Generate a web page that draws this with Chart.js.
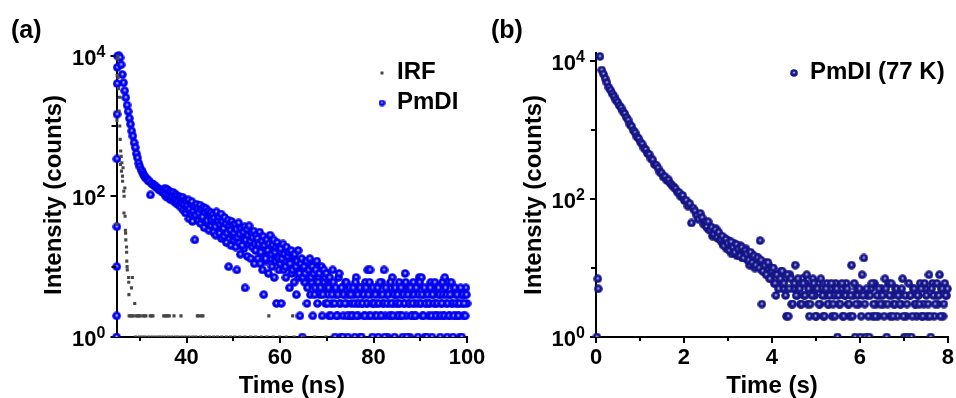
<!DOCTYPE html>
<html>
<head>
<meta charset="utf-8">
<script src="https://cdn.jsdelivr.net/npm/chart.js@4.4.1/dist/chart.umd.min.js"></script>
<style>
html,body{margin:0;padding:0;background:#fff;}
#wrap{position:relative;width:956px;height:398px;overflow:hidden;background:#fff;}
canvas{position:absolute;top:0;}
#chartA{left:0;}
#chartB{left:480px;}
</style>
</head>
<body>
<div id="wrap">
<canvas id="chartA" width="490" height="398"></canvas>
<canvas id="chartB" width="476" height="398"></canvas>
</div>
<script>
/* ---- data ---- */

// (a) room temperature decay, channels of 0.25 ns starting at 25.25 ns
const pmdiStart = 25.25;
const pmdiStep = 0.25;
const pmdiCounts = [
9850,10020,9380,7430,5390,4120,3170,2530,1980,1610,1290,1060,850,720,580,495,405,352,296,265,
240,222,205,193,184,176,170,163,105,152,148,145,139,136,131,127,124,119,121,113,
115,101,108,96,111,90,99,104,85,93,80,97,76,88,70,82,64,79,58,67,
66,48,71,55,44,60,24,52,63,45,57,41,54,47,36,58,43,50,33,45,
38,49,31,42,28,39,44,30,36,25,40,27,33,22,35,10,29,20,31,24,
27,19,9,28,22,15,26,30,18,5,23,14,21,25,13,19,22,11,17,24,
13,20,11,16,9,4,18,12,15,8,19,13,10,16,7,12,3,14,9,11,
3,18,9,12,7,14,10,5,11,8,13,6,9,4,11,7,2,10,1,8,
6,9,3,7,11,4,6,2,8,5,10,3,7,4,9,2,6,5,3,8,
4,2,6,3,9,5,1,4,2,7,3,1,5,2,4,6,3,1,2,5,
3,2,4,1,7,3,2,5,1,3,4,2,6,3,9,2,9,4,1,3,
2,5,3,1,4,2,6,3,9,2,4,1,3,5,2,7,3,1,4,2,
3,6,2,4,1,3,8,2,5,3,1,4,2,6,3,2,5,1,7,3,
7,2,4,1,3,5,2,3,6,1,4,2,3,5,2,4,1,3,6,2,
7,3,1,6,2,4,3,1,5,2,4,3,2,1,4,3,2,4,5,3
];
// in-between channels of the slow tail, from 35.125 ns
const pmdiMidStart = 35.125;
const pmdiMidCounts = [
121,130,112,125,104,118,110,99,114,95,107,101,88,100,93,82,97,78,89,85,
74,89,66,79,84,62,72,54,77,68,58,75,65,51,70,60,67,45,62,56,
59,46,55,49,37,60,45,51,40,56,44,35,50,41,30,46,38,33,44,39,
30,40,34,26,42,29,35,20,31,37,24,34,28,38,23,30,26,32,21,28,
25,21,31,16,23,27,20,13,24,17,21,28,15,20,24,16,19,22,13,19,
18,13,21,15,10,19,14,16,11,17,9,14,15,10,12,17,8,11,13,7,
10,8,12,5,9,13,7,10,8,4,9,12,6,8,5,10,4,9,7,8,
3,5,7,2,4,6,3,5,2,4,8,3,5,1,4,3,6,2,4,5,
4,2,5,3,6,2,4,3,5,1,3,4,2,5,3,4,6,2,3,5,
3,4,2,5,3,6,2,4,3,1,5,3,4,2,6,3,2,4,5,3,
4,2,3,5,2,4,3,6,1,4,3,5,2,3,4,2,5,3,4,6,
3,4,2,5,3,1,4,3,5,2,4,3,6,2,3,5,4,2,3,4,
2,5,4,3,2,4,6,3,2,5,3,4,2,3,5,1,4,3,2,4
];
// rising edge, all within the first channel
const riseTime = [25.02,25.04,25.06,25.08,25.1,25.12,25.14,25.17];
const riseCounts = [1,2,10,37,340,1470,4000,6800];

// instrument response
const irfTime = [
25.05,25.1,25.15,25.2,25.28,25.35,25.45,25.55,25.65,25.7,25.8,25.85,25.9,26.0,26.07,26.15,26.28,26.3,26.4,
26.56,26.6,26.63,26.78,26.84,26.9,26.95,27.0,27.14,27.17,27.2,27.27,27.3,27.6,27.62,27.66,28.2,28.4,28.9,
27.7,28.0,28.3,28.6,29.2,29.5,29.8,30.1,30.7,31.0,31.3,32.2,32.5,32.8,35.1,35.4,35.7,36.0,36.3,37.3,38.8,
42.3,42.6,43.2,43.5,57.6,62.7,
29.1,29.9,30.5,31.1,31.9,32.6,33.3,34.0,34.6,35.3,36.1,36.8,37.6,38.2,39.0,39.7,40.5,41.3,42.0,43.0,
44.1,44.9,45.8,46.6,47.5,48.5,49.4,50.3,51.4,52.5,53.7,54.8,56.0,57.2,58.5,59.9,61.3,63.0,65.0,67.4,69.8
];
const irfCounts = [
40,1200,5200,9000,9800,4900,3400,1630,2560,1000,645,283,440,370,228,300,194,164,255,
118,58,100,131,52,33,30,24,19,16,12,10,9,7,6,4,5,7,3,
2,2,2,2,2,2,2,2,2,2,2,2,2,2,2,2,2,2,2,2,2,
2,2,2,2,2,2,
1,1,1,1,1,1,1,1,1,1,1,1,1,1,1,1,1,1,1,1,
1,1,1,1,1,1,1,1,1,1,1,1,1,1,1,1,1,1,1,1,1
];

// (b) 77 K decay, channels of 0.04 s starting at 0.09 s
const lowStart = 0.09;
const lowStep = 0.04;
const lowCounts = [
11700,7420,6480,5590,4870,4150,3790,3360,3080,2730,
2540,2270,2110,1880,1740,1530,1400,1210,1130,985,
918,800,756,668,628,549,522,459,445,384,
371,318,310,281,246,239,209,211,186,190,
168,158,149,141,126,124,108,113,95,96,
79,86,45,74,67,58,51,62,54,43,
46,38,41,36,29,33,37,27,30,24,
22,27,19,25,21,16,23,20,15,18,
21,14,17,19,13,11,16,15,10,12,
14,25,3,9,12,8,11,7,10,6,
4,8,6,9,5,7,2,2,8,3,
5,11,4,6,3,7,4,6,3,2,
5,7,4,2,6,3,5,2,4,6,
3,5,2,4,6,1,3,5,2,4,
6,3,2,11,4,1,5,3,1,8,
14,1,4,1,5,2,6,3,2,4,
5,3,7,1,6,2,4,3,5,2,
4,3,7,1,2,1,4,1,5,3,
2,4,6,2,3,5,2,8,1,6,
2,4,3,8,5,2,6,4
];
// in-between channels of the tail, from 2.51 s
const lowMidStart = 2.51;
const lowMidCounts = [
40,47,35,39,31,36,28,33,26,29,
21,26,23,18,24,20,17,22,19,15,
20,14,18,16,13,17,12,15,11,14,
10,13,9,11,8,12,7,9,10,6,
8,5,7,9,6,4,8,5,7,3,
6,4,7,5,3,6,4,8,5,3,
4,6,2,5,3,7,4,2,5,3,
4,6,3,2,5,4,3,6,2,4,
5,3,4,2,6,3,4,5,2,4,
3,5,2,4,6,3,2,4,5,3,
4,2,5,3,4,6,2,3,5,4,
3,5,2,4,3,6,4,2,5,3,
4,3,5,2,6,4,3,2,5,4,
3,6,4,2,5,3,4,5
];
// counts before the excitation pulse
const preTime = [0.02,0.04,0.05];
const preCounts = [1,7,5];

// axes
const timeMajorA = [40,60,80,100];
const timeMinorA = [30,50,70,90];
const timeMajorB = [0,2,4,6,8];
const timeMinorB = [1,3,5,7];
const countMajor = [1,100,10000];
const countMinor = [10,1000];
const countExp = [0,2,4];

/* ---- styling ---- */
const FONT = '"Liberation Sans", Arial, Helvetica, sans-serif';

function makeBall(edge, rim, core, size){
  const c = document.createElement('canvas');
  c.width = size; c.height = size;
  const g = c.getContext('2d');
  const r = size/2;
  const grad = g.createRadialGradient(r, r-0.5, 0, r, r, r);
  grad.addColorStop(0, '#f2f2ff');
  grad.addColorStop(0.2, core);
  grad.addColorStop(0.45, rim);
  grad.addColorStop(0.85, rim);
  grad.addColorStop(1, edge);
  g.fillStyle = grad;
  g.beginPath(); g.arc(r, r, r-0.2, 0, Math.PI*2); g.fill();
  return c;
}
const blueBall = makeBall('#0000c8', '#0000f4', '#7474ff', 9);
const navyBall = makeBall('#0c0c6c', '#16168c', '#6c6cb2', 9);
const blueSmall = makeBall('#0000c8', '#0000f4', '#7474ff', 7);
const navySmall = makeBall('#0c0c6c', '#16168c', '#6c6cb2', 8);
const GREY = '#474747';

const pairs = (xs, ys) => xs.map((x,i)=>({x:x, y:ys[i]}));
const grid = (start, step, ys) => ys.map((y,i)=>({x:start+i*step, y:y}));
const CLIP = {left:10, right:10, top:10, bottom:0};

/* extra drawing: minor ticks, 10^n labels, panel letter, legend */
function decor(cfg){
  return {
    id: 'decor',
    afterDraw(chart){
      const ctx = chart.ctx;
      const xs = chart.scales.x, ys = chart.scales.y;
      const a = chart.chartArea;
      ctx.save();
      ctx.strokeStyle = '#000';
      ctx.lineWidth = 2;
      cfg.minorX.forEach(v=>{
        const px = Math.round(xs.getPixelForValue(v));
        ctx.beginPath(); ctx.moveTo(px, a.bottom); ctx.lineTo(px, a.bottom+4); ctx.stroke();
      });
      countMinor.forEach(v=>{
        const py = Math.round(ys.getPixelForValue(v));
        ctx.beginPath(); ctx.moveTo(a.left, py); ctx.lineTo(a.left-5, py); ctx.stroke();
      });

      ctx.fillStyle = '#000';
      ctx.textBaseline = 'alphabetic';
      countExp.forEach(n=>{
        const py = ys.getPixelForValue(Math.pow(10, n));
        ctx.font = 'bold 22px ' + FONT;
        ctx.textAlign = 'right';
        ctx.fillText('10', a.left-20, py+9);
        ctx.font = 'bold 16px ' + FONT;
        ctx.textAlign = 'left';
        ctx.fillText(String(n), a.left-20, py+1);
      });

      ctx.textAlign = 'left';
      ctx.font = 'bold 25px ' + FONT;
      ctx.fillText(cfg.letter, 11, 38);

      ctx.font = 'bold 24px ' + FONT;
      cfg.legend.forEach(item=>{
        const ds = chart.data.datasets[item.index];
        if(item.square){
          ctx.fillStyle = GREY;
          ctx.fillRect(item.mx-1.5, item.my-1.5, 3, 3);
        }else{
          const s = item.sprite;
          ctx.drawImage(s, item.mx-s.width/2, item.my-s.height/2);
        }
        ctx.fillStyle = '#000';
        ctx.fillText(ds.label, item.tx, item.ty);
      });
      ctx.restore();
    }
  };
}

function makeOptions(o){
  return {
    responsive: false,
    animation: false,
    devicePixelRatio: 1,
    layout: {padding: {left:0, top:53, right:o.padRight, bottom:0}},
    plugins: {legend: {display:false}, tooltip: {enabled:false}},
    scales: {
      x: {
        type: 'linear', min: o.xMin, max: o.xMax, z: 1,
        afterBuildTicks: s => { s.ticks = o.xMajor.map(v=>({value:v})); },
        afterFit: s => { s.height = 61; },
        ticks: {font:{family:FONT, size:22, weight:'bold'}, color:'#000', padding:2, autoSkip:false, maxRotation:0, callback: v => String(v)},
        grid: {display:true, drawOnChartArea:false, drawTicks:true, tickLength:6, tickWidth:2, tickColor:'#000', lineWidth:2, color:'#000'},
        border: {display:true, color:'#000', width:2},
        title: {display:true, text:o.xTitle, color:'#000', padding:0, font:{family:FONT, size:24, weight:'bold', lineHeight:1}}
      },
      y: {
        type: 'logarithmic', min: 1, max: o.yMax, z: 1,
        afterBuildTicks: s => { s.ticks = countMajor.map(v=>({value:v})); },
        afterFit: s => { s.width = o.yWidth; },
        ticks: {display:false, callback: () => ''},
        grid: {display:true, drawOnChartArea:false, drawTicks:true, tickLength:6, tickWidth:2, tickColor:'#000', lineWidth:2, color:'#000'},
        border: {display:true, color:'#000', width:2},
        title: {display:true, text:'Intensity (counts)', color:'#000', padding:{top:42, bottom:0}, font:{family:FONT, size:24, weight:'bold', lineHeight:1}}
      }
    }
  };
}

/* panel (a) */
new Chart(document.getElementById('chartA'), {
  type: 'scatter',
  data: {
    datasets: [
      {
        label: 'IRF',
        data: pairs(irfTime, irfCounts),
        pointStyle: 'rect', pointRadius: 2.2, pointBorderWidth: 0,
        pointBackgroundColor: GREY, clip: CLIP
      },
      {
        label: 'PmDI',
        data: pairs(riseTime, riseCounts)
          .concat(grid(pmdiStart, pmdiStep, pmdiCounts))
          .concat(grid(pmdiMidStart, pmdiStep, pmdiMidCounts)),
        pointStyle: blueBall, pointRadius: 4.5, pointBorderWidth: 0, clip: CLIP
      }
    ]
  },
  options: makeOptions({xMin:25, xMax:100, xMajor:timeMajorA, xTitle:'Time (ns)', yMax:1.09e4, yWidth:116.5, padRight:23}),
  plugins: [decor({
    letter: '(a)', minorX: timeMinorA,
    legend: [
      {index:0, square:true, mx:382, my:73, tx:397, ty:78.5},
      {index:1, sprite:blueSmall, mx:382, my:103, tx:397, ty:108.5}
    ]
  })]
});

/* panel (b) */
new Chart(document.getElementById('chartB'), {
  type: 'scatter',
  data: {
    datasets: [
      {
        label: 'PmDI (77 K)',
        data: pairs(preTime, preCounts)
          .concat(grid(lowStart, lowStep, lowCounts))
          .concat(grid(lowMidStart, lowStep, lowMidCounts)),
        pointStyle: navyBall, pointRadius: 4.5, pointBorderWidth: 0, clip: CLIP
      }
    ]
  },
  options: makeOptions({xMin:0, xMax:8, xMajor:timeMajorB, xTitle:'Time (s)', yMax:1.31e4, yWidth:116, padRight:8}),
  plugins: [decor({
    letter: '(b)', minorX: timeMinorB,
    legend: [
      {index:0, sprite:navySmall, mx:314, my:73, tx:330, ty:79}
    ]
  })]
});
</script>
</body>
</html>
